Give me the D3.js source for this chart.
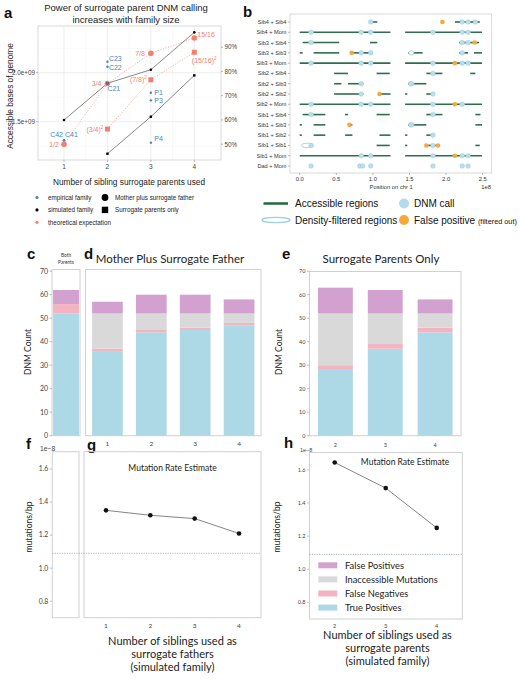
<!DOCTYPE html>
<html><head><meta charset="utf-8">
<script src="https://cdn.jsdelivr.net/npm/d3@7"></script>
<style>body{margin:0;background:#fff}svg{display:block}</style>
</head><body>
<script>
// ---------------- DATA ----------------
// Panel a
const aSibs = [1, 2, 3, 4];
const aSimMotherFather = [1.517e9, 1.892e9, 2.031e9, 2.412e9];   // simulated, circles
const aSimSurrogateSibs = [2, 3, 4];
const aSimSurrogate = [1.173e9, 1.551e9, 1.973e9];                // simulated, squares
const aTheoryCircle = [50, 75, 87.5, 93.75];                      // % (right axis)
const aTheoryCircleLabels = ["1/2", "3/4", "7/8", "15/16"];
const aTheorySquareSibs = [2, 3, 4];
const aTheorySquare = [56.25, 76.5625, 87.890625];
const aTheorySquareLabels = ["(3/4)", "(7/8)", "(15/16)"];
const aEmpNames = ["C41", "C42", "C21", "C22", "C23", "P1", "P3", "P4"];
const aEmpSibs = [1, 1, 2, 2, 2, 3, 3, 3];
const aEmpValues = [1.31e9, 1.31e9, 1.892e9, 2.061e9, 2.112e9, 1.796e9, 1.718e9, 1.286e9];
const aLeftTicks = [1.5e9, 2.0e9];
const aLeftTickLabels = ["1.5e+09", "2.0e+09"];
const aRightTicks = [50, 60, 70, 80, 90];

// Panel b (positions in units of 1e8 bp)
const bRows = ["Sib4 + Sib4", "Sib4 + Mom", "Sib3 + Sib4", "Sib3 + Sib3", "Sib3 + Mom",
  "Sib2 + Sib4", "Sib2 + Sib3", "Sib2 + Sib2", "Sib2 + Mom", "Sib1 + Sib4",
  "Sib1 + Sib3", "Sib1 + Sib2", "Sib1 + Sib1", "Sib1 + Mom", "Dad + Mom"];
const bAccessible = [
  [[0.96, 1.06], [2.12, 2.46]],
  [[0, 1.24], [1.44, 2.49]],
  [[0.04, 0.54], [0.96, 1.06], [2.18, 2.45]],
  [[0, 0.04], [0.19, 0.54], [0.70, 1.0], [1.48, 1.68], [2.18, 2.30], [2.38, 2.49]],
  [[0, 1.24], [1.44, 2.49]],
  [[0.47, 0.66], [1.05, 1.23], [1.73, 1.95], [2.33, 2.40]],
  [[0.47, 0.57], [0.66, 0.87], [1.48, 1.73]],
  [[0.47, 0.87], [1.09, 1.24], [1.44, 1.47], [1.73, 1.83]],
  [[0, 1.24], [1.44, 2.49]],
  [[0.04, 0.35], [0.62, 0.66], [1.05, 1.23], [1.73, 1.95], [2.40, 2.47]],
  [[0, 0.03], [0.19, 0.35], [0.66, 0.72], [1.48, 1.73], [2.40, 2.49]],
  [[0, 0.03], [0.19, 0.35], [0.62, 0.72], [1.09, 1.24], [1.44, 1.47], [1.73, 1.83]],
  [[1.05, 1.23], [1.44, 1.47], [1.73, 1.89], [2.40, 2.46]],
  [[0, 1.24], [1.44, 2.49]],
  []
];
const bDensity = [[], [], [], [[1.49, 1.56]], [], [], [[1.49, 1.56]], [], [], [],
  [[1.49, 1.56]], [], [[0.02, 0.19]], [], []];
const bDNM = [
  [0.97, 2.22, 2.30, 2.40],
  [0.155, 0.84, 0.97, 1.82, 2.22, 2.30],
  [0.155, 2.22, 2.30],
  [0.84, 0.97, 2.22],
  [0.155, 0.84, 0.97, 1.82, 2.22, 2.30],
  [1.82],
  [0.84, 1.52],
  [0.84, 1.82],
  [0.155, 0.84, 0.97, 1.82, 2.22],
  [0.155, 1.82],
  [1.52],
  [1.82],
  [0.155, 1.82],
  [0.84, 0.97, 1.82, 2.22, 2.30],
  [0.155, 0.82, 0.86, 0.97, 1.82, 2.22, 2.30]
];
const bFalsePos = [[1.95], [], [2.39], [0.71], [2.12], [], [], [1.09], [2.12], [],
  [0.68], [], [1.73, 1.89], [2.12], []];
const bTicks = [0, 0.5, 1.0, 1.5, 2.0, 2.5];

// Panels c/d/e (DNM counts)
const stackKeys = ["tp", "fn", "inacc", "fp"];
const stackNames = ["True Positives", "False Negatives", "Inaccessible Mutations", "False Positives"];
const cCats = ["Both"];
const cTP = [52], cFN = [4], cInacc = [0], cFP = [6];
const dCats = [1, 2, 3, 4];
const dTP = [36, 44, 45, 47], dFN = [1, 1, 1, 1], dInacc = [15, 7, 6, 4], dFP = [5, 8, 8, 6];
const eCats = [2, 3, 4];
const eTP = [28, 37, 44], eFN = [2, 2, 2], eInacc = [22, 13, 6], eFP = [11, 10, 6];
const countTicks = [0, 10, 20, 30, 40, 50, 60, 70];

// Panels f/g/h (mutation rate, x1e-8)
const gSibs = [1, 2, 3, 4];
const gRate = [1.35, 1.32, 1.30, 1.21];
const hSibs = [2, 3, 4];
const hRate = [1.645, 1.49, 1.25];
const rateRef = 1.09;
const rateTicks = [0.8, 1.0, 1.2, 1.4, 1.6];

// ---------------- DRAW ----------------
const W = 520, H = 679;
const svg = d3.select("body").append("svg").attr("width", W).attr("height", H);
const SANS = "'Liberation Sans', Arial, sans-serif";
const MYR = "Lato, 'Open Sans', sans-serif";
const colTP = "#add8e6", colFN = "#f4b3c0", colIn = "#d9d9d9", colFP = "#d3a1cf";
const colMap = {tp: colTP, fn: colFN, inacc: colIn, fp: colFP};
const salmon = "#f3806f", empBlue = "#4c7fc4";

function letter(t, x, y) {
  svg.append("text").attr("x", x).attr("y", y).text(t)
    .attr("font-family", SANS).attr("font-weight", "bold").attr("font-size", 15).attr("fill", "#111");
}

// ===== Panel a =====
(function () {
  const L = 38, R = 221, T = 26, B = 160;
  const x = d3.scaleLinear().domain([1, 4]).range([64, 194.3]);
  const yL = d3.scaleLinear().domain([1.109e9, 2.477e9]).range([B, T]);
  const yR = d3.scaleLinear().domain([43.5, 98.7]).range([B, T]);
  const g = svg.append("g");
  letter("a", 4, 18);
  g.append("text").attr("x", 126).attr("y", 11).attr("text-anchor", "middle")
    .attr("font-family", SANS).attr("font-size", 9.5).attr("fill", "#222")
    .text("Power of surrogate parent DNM calling");
  g.append("text").attr("x", 126).attr("y", 23).attr("text-anchor", "middle")
    .attr("font-family", SANS).attr("font-size", 9.5).attr("fill", "#222")
    .text("increases with family size");
  // grid
  const minor = [1.25e9, 1.75e9, 2.25e9];
  minor.forEach(v => g.append("line").attr("x1", L).attr("x2", R).attr("y1", yL(v)).attr("y2", yL(v))
    .attr("stroke", "#f2f2f2").attr("stroke-width", 0.5));
  aLeftTicks.forEach(v => g.append("line").attr("x1", L).attr("x2", R).attr("y1", yL(v)).attr("y2", yL(v))
    .attr("stroke", "#e6e6e6").attr("stroke-width", 0.7));
  [1.5, 2.5, 3.5].forEach(v => g.append("line").attr("y1", T).attr("y2", B).attr("x1", x(v)).attr("x2", x(v))
    .attr("stroke", "#f2f2f2").attr("stroke-width", 0.5));
  aSibs.forEach(v => g.append("line").attr("y1", T).attr("y2", B).attr("x1", x(v)).attr("x2", x(v))
    .attr("stroke", "#e6e6e6").attr("stroke-width", 0.7));
  g.append("rect").attr("x", L).attr("y", T).attr("width", R - L).attr("height", B - T)
    .attr("fill", "none").attr("stroke", "#cfcfcf").attr("stroke-width", 0.8);
  // axes ticks
  aLeftTicks.forEach((v, i) => {
    g.append("line").attr("x1", L - 2).attr("x2", L).attr("y1", yL(v)).attr("y2", yL(v)).attr("stroke", "#888").attr("stroke-width", 0.6);
    g.append("text").attr("x", L - 3).attr("y", yL(v) + 2.3).attr("text-anchor", "end")
      .attr("font-family", SANS).attr("font-size", 6.3).attr("fill", "#444").text(aLeftTickLabels[i]);
  });
  aRightTicks.forEach(v => {
    g.append("line").attr("x1", R).attr("x2", R + 2).attr("y1", yR(v)).attr("y2", yR(v)).attr("stroke", "#888").attr("stroke-width", 0.6);
    g.append("text").attr("x", R + 3.5).attr("y", yR(v) + 2.3)
      .attr("font-family", SANS).attr("font-size", 6.3).attr("fill", "#444").text(v + "%");
  });
  aSibs.forEach(v => {
    g.append("line").attr("x1", x(v)).attr("x2", x(v)).attr("y1", B).attr("y2", B + 2).attr("stroke", "#888").attr("stroke-width", 0.6);
    g.append("text").attr("x", x(v)).attr("y", B + 9).attr("text-anchor", "middle")
      .attr("font-family", SANS).attr("font-size", 6.5).attr("fill", "#444").text(v);
  });
  g.append("text").attr("x", 129).attr("y", 185).attr("text-anchor", "middle")
    .attr("font-family", SANS).attr("font-size", 8.3).attr("fill", "#222")
    .text("Number of sibling surrogate parents used");
  g.append("text").attr("transform", `translate(13,${(T + B) / 2 + 3}) rotate(-90)`).attr("text-anchor", "middle")
    .attr("font-family", SANS).attr("font-size", 8.3).attr("fill", "#222")
    .text("Accessible bases of genome");
  // theoretical dotted lines
  const lnR = d3.line().x(d => x(d[0])).y(d => yR(d[1]));
  g.append("path").attr("d", lnR(aSibs.map((s, i) => [s, aTheoryCircle[i]])))
    .attr("fill", "none").attr("stroke", salmon).attr("stroke-width", 0.8).attr("stroke-dasharray", "1.2,1.5").attr("opacity", 0.75);
  g.append("path").attr("d", lnR(aTheorySquareSibs.map((s, i) => [s, aTheorySquare[i]])))
    .attr("fill", "none").attr("stroke", salmon).attr("stroke-width", 0.8).attr("stroke-dasharray", "1.2,1.5").attr("opacity", 0.75);
  // simulated lines
  const lnL = d3.line().x(d => x(d[0])).y(d => yL(d[1]));
  g.append("path").attr("d", lnL(aSibs.map((s, i) => [s, aSimMotherFather[i]])))
    .attr("fill", "none").attr("stroke", "#555").attr("stroke-width", 0.7);
  g.append("path").attr("d", lnL(aSimSurrogateSibs.map((s, i) => [s, aSimSurrogate[i]])))
    .attr("fill", "none").attr("stroke", "#555").attr("stroke-width", 0.7);
  // theoretical marks
  aSibs.forEach((s, i) => g.append("circle").attr("cx", x(s)).attr("cy", yR(aTheoryCircle[i])).attr("r", 2.8).attr("fill", salmon));
  aTheorySquareSibs.forEach((s, i) => g.append("rect").attr("x", x(s) - 2.5).attr("y", yR(aTheorySquare[i]) - 2.5)
    .attr("width", 5).attr("height", 5).attr("fill", salmon));
  // simulated marks
  aSibs.forEach((s, i) => g.append("circle").attr("cx", x(s)).attr("cy", yL(aSimMotherFather[i])).attr("r", 1.3).attr("fill", "#000"));
  aSimSurrogateSibs.forEach((s, i) => g.append("rect").attr("x", x(s) - 1.2).attr("y", yL(aSimSurrogate[i]) - 1.2)
    .attr("width", 2.4).attr("height", 2.4).attr("fill", "#000"));
  // empirical marks
  aEmpSibs.forEach((s, i) => g.append("circle").attr("cx", x(s)).attr("cy", yL(aEmpValues[i])).attr("r", 1.2).attr("fill", empBlue));
  // labels
  function lab(t, xx, yy, col, anchor, sup) {
    const tx = g.append("text").attr("x", xx).attr("y", yy).attr("text-anchor", anchor || "start")
      .attr("font-family", SANS).attr("font-size", 7).attr("fill", col).text(t);
    if (sup) tx.append("tspan").attr("dy", -3).attr("font-size", 4.6).text("2");
  }
  // theoretical labels
  const circOff = [[-5, 2.5, "end"], [-6, 2.5, "end"], [-6, 2.5, "end"], [3, -0.8, "start"]];
  aSibs.forEach((s, i) => lab(aTheoryCircleLabels[i], x(s) + circOff[i][0], yR(aTheoryCircle[i]) + circOff[i][1], salmon, circOff[i][2]));
  const sqOff = [[-4, 2.5, "end"], [-4, 2.5, "end"], [-2.5, 10.5, "start"]];
  aTheorySquareSibs.forEach((s, i) => lab(aTheorySquareLabels[i], x(s) + sqOff[i][0], yR(aTheorySquare[i]) + sqOff[i][1], salmon, sqOff[i][2], true));
  // empirical labels
  const empOff = {C41: null, C42: null, C21: [0, 8], C22: [1.5, 2.8], C23: [1.5, -1.2], P1: [3.5, 2.5], P3: [3.5, 2.5], P4: [3.5, -1.5]};
  lab("C42 C41", x(1), yL(aEmpValues[0]) - 3.5, empBlue, "middle");
  aEmpNames.forEach((n, i) => { if (empOff[n]) lab(n, x(aEmpSibs[i]) + empOff[n][0], yL(aEmpValues[i]) + empOff[n][1], empBlue); });

  // legend
  const lg = svg.append("g").attr("font-family", SANS).attr("font-size", 6.3).attr("fill", "#222");
  const lgItems = [["empirical family", empBlue], ["simulated family", "#000"], ["theoretical expectation", salmon]];
  lgItems.forEach((d, i) => {
    lg.append("circle").attr("cx", 37).attr("cy", 197.5 + i * 12.4).attr("r", 1.6).attr("fill", d[1]);
    lg.append("text").attr("x", 48).attr("y", 199.7 + i * 12.4).text(d[0]);
  });
  lg.append("circle").attr("cx", 105).attr("cy", 197.5).attr("r", 3.4).attr("fill", "#000");
  lg.append("text").attr("x", 115).attr("y", 199.7).text("Mother plus surrogate father");
  lg.append("rect").attr("x", 101.8).attr("y", 206.7).attr("width", 6.4).attr("height", 6.4).attr("fill", "#000");
  lg.append("text").attr("x", 115).attr("y", 212.1).text("Surrogate parents only");
})();

// ===== Panel b =====
(function () {
  const L = 290, R = 491.7, T = 14, B = 173;
  const x = d3.scaleLinear().domain([0, 2.5]).range([299.7, 482.7]);
  const y = d3.scalePoint().domain(bRows).range([22, 166]);
  const g = svg.append("g");
  letter("b", 243, 17);
  g.append("rect").attr("x", L).attr("y", T).attr("width", R - L).attr("height", B - T)
    .attr("fill", "none").attr("stroke", "#cfcfcf").attr("stroke-width", 0.8);
  bRows.forEach((r, i) => {
    g.append("line").attr("x1", L - 2).attr("x2", L).attr("y1", y(r)).attr("y2", y(r)).attr("stroke", "#777").attr("stroke-width", 0.5);
    g.append("text").attr("x", L - 3.5).attr("y", y(r) + 2).attr("text-anchor", "end")
      .attr("font-family", SANS).attr("font-size", 5.6).attr("fill", "#333").text(r);
    bAccessible[i].forEach(s => g.append("line").attr("x1", x(s[0])).attr("x2", x(s[1])).attr("y1", y(r)).attr("y2", y(r))
      .attr("stroke", "#2f6e4c").attr("stroke-width", 1.6));
    bDensity[i].forEach(s => g.append("ellipse").attr("cx", (x(s[0]) + x(s[1])) / 2).attr("cy", y(r))
      .attr("rx", (x(s[1]) - x(s[0])) / 2).attr("ry", 2.2).attr("fill", "#fff").attr("stroke", "#9fd0e0").attr("stroke-width", 0.9));
    bDNM[i].forEach(v => g.append("circle").attr("cx", x(v)).attr("cy", y(r)).attr("r", 2.3)
      .attr("fill", "#b8dfeb").attr("stroke", "#9cc9da").attr("stroke-width", 0.5));
    bFalsePos[i].forEach(v => g.append("circle").attr("cx", x(v)).attr("cy", y(r)).attr("r", 2.3)
      .attr("fill", "#f5a93a"));
  });
  bTicks.forEach(v => {
    g.append("line").attr("x1", x(v)).attr("x2", x(v)).attr("y1", B).attr("y2", B + 2).attr("stroke", "#777").attr("stroke-width", 0.5);
    g.append("text").attr("x", x(v)).attr("y", B + 8).attr("text-anchor", "middle")
      .attr("font-family", SANS).attr("font-size", 5.8).attr("fill", "#333").text(v.toFixed(1));
  });
  g.append("text").attr("x", x(1.25)).attr("y", 189).attr("text-anchor", "middle")
    .attr("font-family", SANS).attr("font-size", 5.8).attr("fill", "#333").text("Position on chr 1");
  g.append("text").attr("x", 491).attr("y", 189).attr("text-anchor", "end")
    .attr("font-family", SANS).attr("font-size", 5.8).attr("fill", "#333").text("1e8");
  // legend
  const lg = svg.append("g").attr("font-family", SANS).attr("fill", "#111");
  lg.append("line").attr("x1", 263.5).attr("x2", 288).attr("y1", 203.5).attr("y2", 203.5).attr("stroke", "#1d6a3a").attr("stroke-width", 2.5);
  lg.append("text").attr("x", 295).attr("y", 207).attr("font-size", 10).text("Accessible regions");
  lg.append("ellipse").attr("cx", 276).attr("cy", 220).attr("rx", 14).attr("ry", 2.6).attr("fill", "#fff").attr("stroke", "#9fd0e0").attr("stroke-width", 1.2);
  lg.append("text").attr("x", 295).attr("y", 223.5).attr("font-size", 10).text("Density-filtered regions");
  lg.append("circle").attr("cx", 404).attr("cy", 203.5).attr("r", 5).attr("fill", "#b3dcea");
  lg.append("text").attr("x", 414).attr("y", 207).attr("font-size", 10).text("DNM call");
  lg.append("circle").attr("cx", 404).attr("cy", 220).attr("r", 5).attr("fill", "#f5a93a");
  const t = lg.append("text").attr("x", 414).attr("y", 223.5).attr("font-size", 10).text("False positive ");
  t.append("tspan").attr("font-size", 7.3).text("(filtered out)");
})();

// ===== Panels c/d/e =====
const yCount = d3.scaleLinear().domain([0, 70]).range([435.7, 271.2]);
function stackData(cats, tp, fn, inn, fp) {
  return cats.map((c, i) => ({cat: c, tp: tp[i], fn: fn[i], inacc: inn[i], fp: fp[i]}));
}
function drawBars(cats, rows, L, R, T, B, po, pi) {
  const xb = d3.scaleBand().domain(cats).range([L, R]).paddingInner(pi).paddingOuter(po);
  const series = d3.stack().keys(stackKeys)(rows);
  svg.append("rect").attr("x", L).attr("y", T).attr("width", R - L).attr("height", B - T)
    .attr("fill", "none").attr("stroke", "#d0d0d0").attr("stroke-width", 1);
  series.forEach(s => {
    svg.append("g").selectAll("rect").data(s).join("rect")
      .attr("x", d => xb(d.data.cat)).attr("width", xb.bandwidth())
      .attr("y", d => yCount(d[1])).attr("height", d => yCount(d[0]) - yCount(d[1]))
      .attr("fill", colMap[s.key]);
  });
  return xb;
}
function yAxisCounts(xAxis, fs, lx) {
  countTicks.forEach(v => {
    svg.append("line").attr("x1", xAxis - 2.5).attr("x2", xAxis).attr("y1", yCount(v)).attr("y2", yCount(v)).attr("stroke", "#999").attr("stroke-width", 0.6);
    svg.append("text").attr("x", xAxis - 4).attr("y", yCount(v) + fs * 0.35).attr("text-anchor", "end")
      .attr("font-family", MYR).attr("font-size", fs).attr("fill", "#444").text(v);
  });
  svg.append("text").attr("transform", `translate(${lx},352) rotate(-90)`).attr("text-anchor", "middle")
    .attr("font-family", MYR).attr("font-size", 8.5).attr("fill", "#222").text("DNM Count");
}
letter("c", 27, 259);
svg.append("text").attr("x", 66).attr("y", 257).attr("text-anchor", "middle").attr("font-family", MYR).attr("font-size", 4.8).attr("fill", "#333").text("Both");
svg.append("text").attr("x", 66).attr("y", 264).attr("text-anchor", "middle").attr("font-family", MYR).attr("font-size", 4.8).attr("fill", "#333").text("Parents");
drawBars(cCats, stackData(cCats, cTP, cFN, cInacc, cFP), 52, 80, 269.5, 435.7, 0.04, 0);
yAxisCounts(52, 7, 31);

letter("d", 84, 259);
svg.append("text").attr("x", 170).attr("y", 263).attr("text-anchor", "middle").attr("font-family", MYR).attr("font-size", 11.5).attr("fill", "#222").text("Mother Plus Surrogate Father");
const xd = drawBars(dCats, stackData(dCats, dTP, dFN, dInacc, dFP), 85.5, 261, 269.5, 435.7, 0.15, 0.3);
dCats.forEach(c => svg.append("text").attr("x", xd(c) + xd.bandwidth() / 2).attr("y", 445.5).attr("text-anchor", "middle")
  .attr("font-family", MYR).attr("font-size", 6.5).attr("fill", "#444").text(c));

letter("e", 282, 259);
svg.append("text").attr("x", 381).attr("y", 263).attr("text-anchor", "middle").attr("font-family", MYR).attr("font-size", 11.5).attr("fill", "#222").text("Surrogate Parents Only");
const xe = drawBars(eCats, stackData(eCats, eTP, eFN, eInacc, eFP), 309.5, 461, 271.5, 435.7, 0.17, 0.3);
yAxisCounts(309.5, 5.5, 282);
eCats.forEach(c => svg.append("text").attr("x", xe(c) + xe.bandwidth() / 2).attr("y", 447).attr("text-anchor", "middle")
  .attr("font-family", MYR).attr("font-size", 5.5).attr("fill", "#444").text(c));

// ===== Panels f/g/h =====
function rateAxis(L, T, B, fs, expX, lx) {
  const y = d3.scaleLinear().domain([0.70, 1.705]).range([B, T]);
  rateTicks.forEach(v => {
    svg.append("line").attr("x1", L - 2.5).attr("x2", L).attr("y1", y(v)).attr("y2", y(v)).attr("stroke", "#999").attr("stroke-width", 0.6);
    svg.append("text").attr("x", L - 4).attr("y", y(v) + fs * 0.35).attr("text-anchor", "end")
      .attr("font-family", MYR).attr("font-size", fs).attr("fill", "#444").text(v.toFixed(1));
  });
  svg.append("text").attr("x", expX).attr("y", T - 1).attr("font-family", SANS).attr("font-size", fs).attr("fill", "#444").text("1e\u22128");
  svg.append("text").attr("transform", `translate(${lx},527) rotate(-90)`).attr("text-anchor", "middle")
    .attr("font-family", MYR).attr("font-size", 8.5).attr("fill", "#222").text("mutations/bp");
  return y;
}
function box(L, R, T, B) {
  svg.append("rect").attr("x", L).attr("y", T).attr("width", R - L).attr("height", B - T)
    .attr("fill", "none").attr("stroke", "#d0d0d0").attr("stroke-width", 1);
}
letter("f", 26, 449);
const yf = rateAxis(52.3, 451.7, 617.7, 6.8, 40, 32);
box(52.3, 79, 451.7, 617.7);
letter("g", 87, 450);
box(84, 261, 451.7, 617.7);
svg.append("line").attr("x1", 52.3).attr("x2", 261).attr("y1", yf(rateRef)).attr("y2", yf(rateRef))
  .attr("stroke", "#8593a8").attr("stroke-width", 0.7).attr("stroke-dasharray", "1.2,1.2");
const xg = d3.scaleLinear().domain([1, 4]).range([106, 239]);
svg.append("text").attr("x", 172.5).attr("y", 471).attr("text-anchor", "middle").attr("font-family", MYR).attr("font-size", 8.5).attr("fill", "#222").text("Mutation Rate Estimate");
svg.append("path").attr("d", d3.line().x((d, i) => xg(gSibs[i])).y(d => yf(d))(gRate))
  .attr("fill", "none").attr("stroke", "#666").attr("stroke-width", 0.8);
gRate.forEach((v, i) => svg.append("circle").attr("cx", xg(gSibs[i])).attr("cy", yf(v)).attr("r", 2.3).attr("fill", "#111"));
gSibs.forEach(s => svg.append("text").attr("x", xg(s)).attr("y", 628).attr("text-anchor", "middle")
  .attr("font-family", MYR).attr("font-size", 6.5).attr("fill", "#444").text(s));
["Number of siblings used as", "surrogate fathers", "(simulated family)"].forEach((t, i) =>
  svg.append("text").attr("x", 172.5).attr("y", 645 + i * 13).attr("text-anchor", "middle")
    .attr("font-family", MYR).attr("font-size", 11).attr("fill", "#222").text(t));

letter("h", 284, 448);
const yh = rateAxis(309.5, 452.5, 619, 5.5, 300, 280);
box(309.5, 462.3, 452.5, 619);
svg.append("line").attr("x1", 309.5).attr("x2", 462.3).attr("y1", yh(rateRef)).attr("y2", yh(rateRef))
  .attr("stroke", "#8593a8").attr("stroke-width", 0.7).attr("stroke-dasharray", "1.2,1.2");
const xh = d3.scaleLinear().domain([2, 4]).range([334.7, 436.7]);
svg.append("text").attr("x", 405).attr("y", 465).attr("text-anchor", "middle").attr("font-family", MYR).attr("font-size", 8.5).attr("fill", "#222").text("Mutation Rate Estimate");
svg.append("path").attr("d", d3.line().x((d, i) => xh(hSibs[i])).y(d => yh(d))(hRate))
  .attr("fill", "none").attr("stroke", "#666").attr("stroke-width", 0.8);
hRate.forEach((v, i) => svg.append("circle").attr("cx", xh(hSibs[i])).attr("cy", yh(v)).attr("r", 2.3).attr("fill", "#111"));
hSibs.forEach(s => svg.append("text").attr("x", xh(s)).attr("y", 628).attr("text-anchor", "middle")
  .attr("font-family", MYR).attr("font-size", 5.5).attr("fill", "#444").text(s));
["Number of siblings used as", "surrogate parents", "(simulated family)"].forEach((t, i) =>
  svg.append("text").attr("x", 387.5).attr("y", 639 + i * 13).attr("text-anchor", "middle")
    .attr("font-family", MYR).attr("font-size", 11).attr("fill", "#222").text(t));
// legend in h
const legOrder = ["fp", "inacc", "fn", "tp"];
legOrder.forEach((k, i) => {
  svg.append("rect").attr("x", 318.3).attr("y", 562.3 + i * 14.1).attr("width", 19).attr("height", 6).attr("fill", colMap[k]);
  svg.append("text").attr("x", 345).attr("y", 569 + i * 14.1).attr("font-family", MYR).attr("font-size", 9.3).attr("fill", "#222")
    .text(stackNames[stackKeys.indexOf(k)]);
});
</script>
</body></html>
